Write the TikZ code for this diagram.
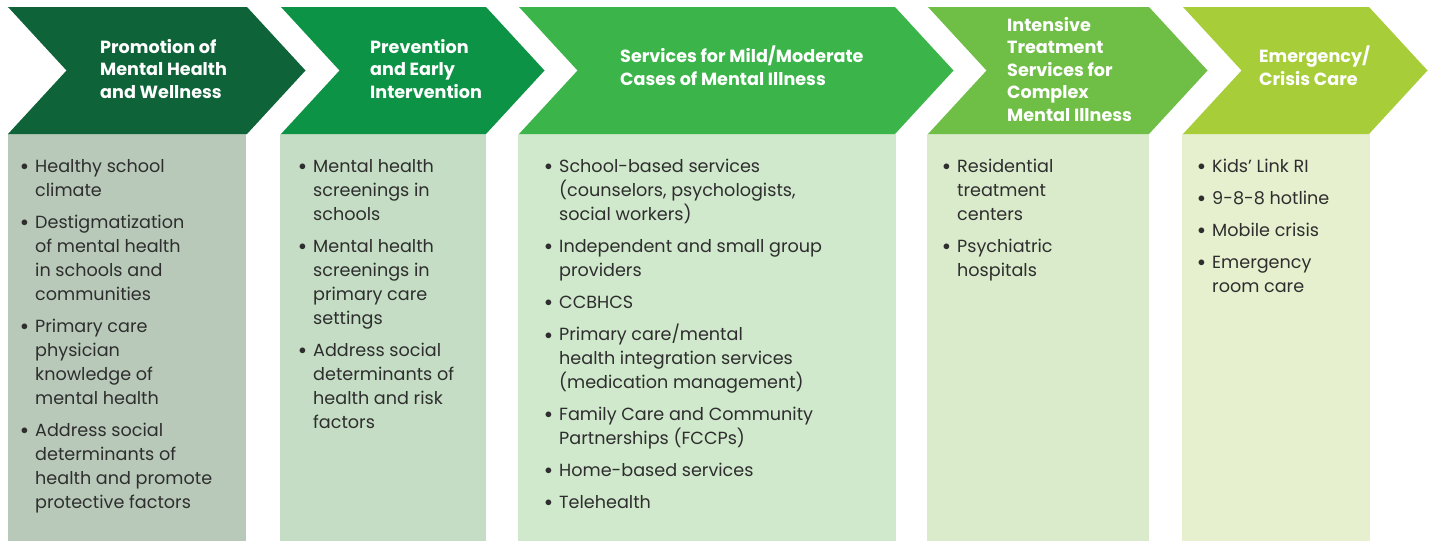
\documentclass[tikz,border=0pt]{standalone}
\usepackage{fontspec}
\setmainfont{Poppins}
\definecolor{cA}{HTML}{0F6338}
\definecolor{cB}{HTML}{0D9345}
\definecolor{cC}{HTML}{3BB54A}
\definecolor{cD}{HTML}{6FBE45}
\definecolor{cE}{HTML}{A7CE39}
\definecolor{bA}{HTML}{B8C9B9}
\definecolor{bB}{HTML}{C4DDC4}
\definecolor{bC}{HTML}{D0E8CC}
\definecolor{bD}{HTML}{DAEBCB}
\definecolor{bE}{HTML}{E6F0CF}
\definecolor{bodytext}{HTML}{2E2E2E}
\newcommand\bul{\rule{0pt}{16pt}\llap{\raisebox{1.5pt}{\scalebox{0.85}{$\bullet$}}\hspace{7pt}}}
\newcommand\hst{\rule{0pt}{16pt}}
\begin{document}
\begin{tikzpicture}[x=1pt,y=-1pt,
  body/.style={anchor=north west, align=left, inner sep=0pt, text=bodytext,
    font=\fontsize{17.6}{24}\selectfont},
  head/.style={anchor=north west, align=left, inner sep=0pt, text=white,
    font=\bfseries\fontsize{17.6}{22.5}\selectfont}]
\useasboundingbox (0,0) rectangle (1429,541);
% boxes
\fill[bA] (8,134) rectangle (246,541);
\fill[bB] (280,134) rectangle (486,541);
\fill[bC] (518,134) rectangle (896,541);
\fill[bD] (927,134) rectangle (1149,541);
\fill[bE] (1182,134) rectangle (1370,541);
% chevrons
\fill[cA] (8,7) -- (247,7) -- (305.5,70.5) -- (247,134) -- (8,134) -- (66.5,70.5) -- cycle;
\fill[cB] (281,7) -- (486,7) -- (544.5,70.5) -- (486,134) -- (281,134) -- (339.5,70.5) -- cycle;
\fill[cC] (519,7) -- (895,7) -- (953.5,70.5) -- (895,134) -- (519,134) -- (577.5,70.5) -- cycle;
\fill[cD] (928,7) -- (1149,7) -- (1207.5,70.5) -- (1149,134) -- (928,134) -- (986.5,70.5) -- cycle;
\fill[cE] (1183,7) -- (1369,7) -- (1427.5,70.5) -- (1369,134) -- (1183,134) -- (1241.5,70.5) -- cycle;
% headers (north = first baseline - 16)
\node[head] (h1) at (100,37) {\hst Promotion of\\Mental Health\\and Wellness};
\node[head] (h2) at (370,37) {\hst Prevention\\and Early\\Intervention};
\node[head] (h3) at (620,46) {\hst Services for Mild/Moderate\\Cases of Mental Illness};
\node[head] (h4) at (1007,15) {\hst Intensive\\Treatment\\Services for\\Complex\\Mental Illness};
\node[head] (h5) at (1259,46) {\hst Emergency/\\Crisis Care};
% column 1 (north = first baseline - 16)
\node[body] (a1) at (35,156) {\bul Healthy school\\climate};
\node[body] (a2) at (35,212) {\bul Destigmatization\\of mental health\\in schools and\\communities};
\node[body] (a3) at (35,316) {\bul Primary care\\physician\\knowledge of\\mental health};
\node[body] (a4) at (35,420) {\bul Address social\\determinants of\\health and promote\\protective factors};
% column 2
\node[body] (b1) at (313,156) {\bul Mental health\\screenings in\\schools};
\node[body] (b2) at (313,236) {\bul Mental health\\screenings in\\primary care\\settings};
\node[body] (b3) at (313,340) {\bul Address social\\determinants of\\health and risk\\factors};
% column 3
\node[body] (c1) at (559,156) {\bul School-based services\\(counselors, psychologists,\\social workers)};
\node[body] (c2) at (559,236) {\bul Independent and small group\\providers};
\node[body] (c3) at (559,292) {\bul CCBHCS};
\node[body] (c4) at (559,324) {\bul Primary care/mental\\health integration services\\(medication management)};
\node[body] (c5) at (559,404) {\bul Family Care and Community\\Partnerships (FCCPs)};
\node[body] (c6) at (559,460) {\bul Home-based services};
\node[body] (c7) at (559,492) {\bul Telehealth};
% column 4
\node[body] (d1) at (957,156) {\bul Residential\\treatment\\centers};
\node[body] (d2) at (957,236) {\bul Psychiatric\\hospitals};
% column 5
\node[body] (e1) at (1212,156) {\bul Kids’ Link RI};
\node[body] (e2) at (1212,188) {\bul 9-8-8 hotline};
\node[body] (e3) at (1212,220) {\bul Mobile crisis};
\node[body] (e4) at (1212,252) {\bul Emergency\\room care};
\end{tikzpicture}
\end{document}
